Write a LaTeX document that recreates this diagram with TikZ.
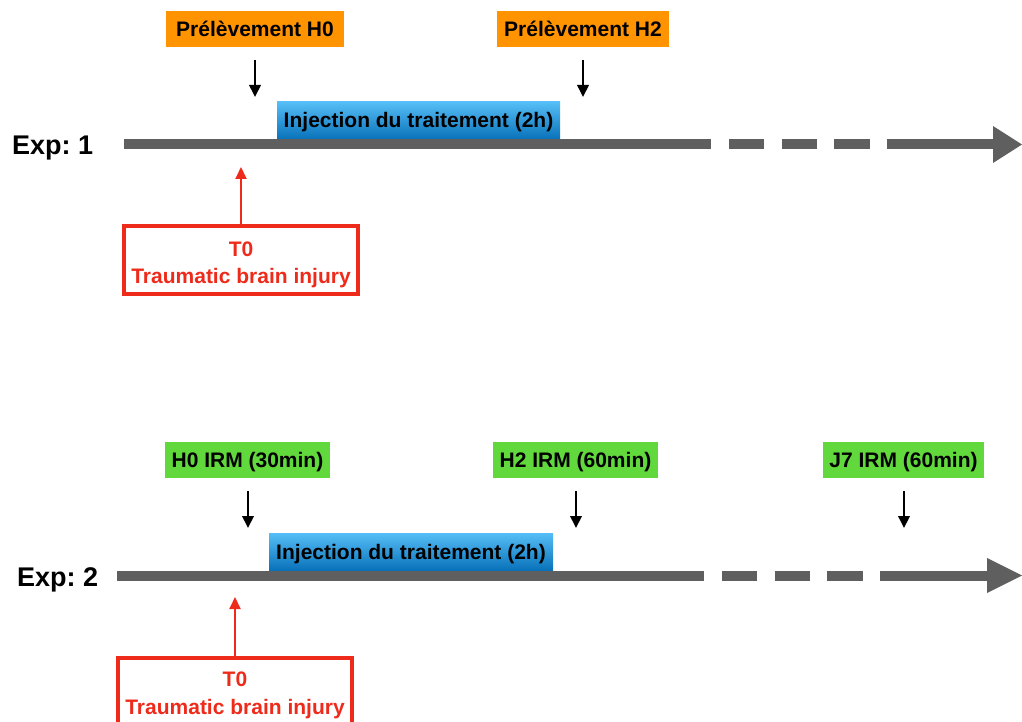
\documentclass[tikz,border=0pt]{standalone}
\usepackage{fontspec}
\setmainfont{Liberation Sans}
\usetikzlibrary{arrows.meta}
\definecolor{tlgray}{HTML}{5F5F5F}
\definecolor{orangeBox}{HTML}{FF9300}
\definecolor{greenBox}{HTML}{61D83B}
\definecolor{blueTop}{HTML}{55BEF6}
\definecolor{blueBot}{HTML}{0A72BA}
\definecolor{redC}{HTML}{EE2A1B}
\frenchspacing
\begin{document}
\begin{tikzpicture}[x=1pt,y=-1pt,
  lbl/.style={font=\bfseries\fontsize{21}{25}\selectfont, inner sep=0pt},
  boxlbl/.style={lbl, text height=15pt, text depth=0pt},
  obox/.style={boxlbl, fill=orangeBox, minimum height=36pt},
  gbox/.style={boxlbl, fill=greenBox, minimum height=36pt},
  bbox/.style={boxlbl, top color=blueTop, bottom color=blueBot, minimum height=37pt},
  redtxt/.style={lbl, text=redC, anchor=base},
  redframe/.style={draw=redC, line width=4pt, inner sep=0pt, minimum width=234pt},
  tick/.style={line width=2pt, -{Triangle[width=11.5pt,length=12pt]}},
  redarr/.style={redC, line width=2pt, -{Triangle[width=11pt,length=12pt]}},
  tl/.style={tlgray, line width=10pt},
  explbl/.style={font=\bfseries\fontsize{27}{32}\selectfont, inner sep=0pt, anchor=base west}]
\path[use as bounding box] (0,0) rectangle (1022,722);
\clip (0,0) rectangle (1022,722);

% ---------------- Exp 1 ----------------
\node[explbl] (e1) at (12,155) {Exp: 1};
\coordinate (t1s) at (124,144.5);
\coordinate (t1a) at (711,144.5);
\draw[tl] (t1s) -- (t1a);
\foreach \a/\b in {729/764,782/817,834/870} \draw[tl] (\a,144.5) -- (\b,144.5);
\draw[tl] (887,144.5) -- (994,144.5);
\fill[tlgray] (993,126) -- (1022,144.5) -- (993,163) -- cycle;

\node[obox, minimum width=178pt] (p0) at (255,29) {Prélèvement H0};
\node[obox, minimum width=172pt] (p2) at (583,29) {Prélèvement H2};
\coordinate (p0a) at (255,60); \coordinate (p0b) at (255,97);
\coordinate (p2a) at (583,60); \coordinate (p2b) at (583,97);
\draw[tick] (p0a) -- (p0b);
\draw[tick] (p2a) -- (p2b);

\node[bbox, minimum width=283pt] (inj1) at (418.5,120.5) {Injection du traitement (2h)};

\node[redframe, minimum height=68pt] (tbi1) at (241,260) {};
\node[redtxt] (t0a) at (241,256) {T0};
\node[redtxt] (tbia) at (241,283.5) {Traumatic brain injury};
\coordinate (r1) at (241,167);
\draw[redarr] (tbi1.north) -- (r1);

% ---------------- Exp 2 ----------------
\node[explbl] (e2) at (17,586) {Exp: 2};
\coordinate (t2s) at (117,575.5);
\coordinate (t2a) at (704,575.5);
\draw[tl] (t2s) -- (t2a);
\foreach \a/\b in {722/757,775/810,827/863} \draw[tl] (\a,575.5) -- (\b,575.5);
\draw[tl] (880,575.5) -- (988,575.5);
\fill[tlgray] (987,558) -- (1022,575.5) -- (987,593) -- cycle;

\node[gbox, minimum width=165pt] (g0) at (247.5,460) {H0 IRM (30min)};
\node[gbox, minimum width=165pt] (g2) at (575.5,460) {H2 IRM (60min)};
\node[gbox, minimum width=161pt] (g7) at (903.5,460) {J7 IRM (60min)};
\coordinate (g0a) at (248,491); \coordinate (g0b) at (248,528);
\coordinate (g2a) at (576,491); \coordinate (g2b) at (576,528);
\coordinate (g7a) at (904,491); \coordinate (g7b) at (904,528);
\draw[tick] (g0a) -- (g0b);
\draw[tick] (g2a) -- (g2b);
\draw[tick] (g7a) -- (g7b);

\node[bbox, minimum width=284pt] (inj2) at (411,551.5) {Injection du traitement (2h)};

\node[redframe, minimum height=102pt] (tbi2) at (235,709) {};
\node[redtxt] (t0b) at (235,686.5) {T0};
\node[redtxt] (tbib) at (235,714) {Traumatic brain injury};
\coordinate (r2) at (235,597);
\draw[redarr] (tbi2.north) -- (r2);
\end{tikzpicture}
\end{document}
